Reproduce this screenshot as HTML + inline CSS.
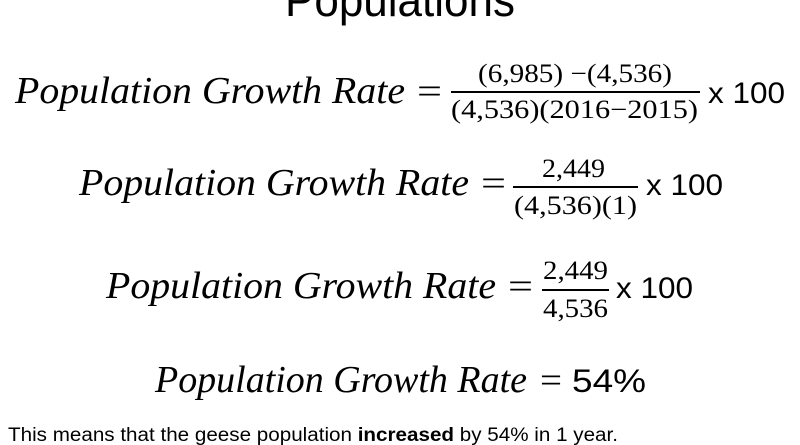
<!DOCTYPE html>
<html><head><meta charset="utf-8"><style>
html,body{margin:0;padding:0;background:#fff;width:800px;height:445px;overflow:hidden}
svg{display:block}
.m{font-family:"Liberation Serif",serif;font-style:italic;fill:#000}
.n{font-family:"Liberation Serif",serif;fill:#000}
.s{font-family:"Liberation Sans",sans-serif;fill:#000}
</style></head><body>
<svg width="800" height="445" viewBox="0 0 800 445">
<text class="s" x="400" y="16" font-size="46" text-anchor="middle" textLength="230" lengthAdjust="spacingAndGlyphs">Populations</text>

<g>
<text class="m" x="15" y="103" font-size="38" textLength="390" lengthAdjust="spacingAndGlyphs">Population Growth Rate</text>
<text class="n" x="417" y="103" font-size="36" textLength="25" lengthAdjust="spacingAndGlyphs">=</text>
<text class="n" x="478" y="82" font-size="26" textLength="194" lengthAdjust="spacingAndGlyphs">(6,985) −(4,536)</text>
<rect x="451" y="91" width="249" height="2" fill="#000"/>
<text class="n" x="451" y="118" font-size="26" textLength="247" lengthAdjust="spacingAndGlyphs">(4,536)(2016−2015)</text>
<text class="s" x="708" y="103" font-size="30" textLength="77" lengthAdjust="spacingAndGlyphs">x 100</text>
</g>

<g>
<text class="m" x="79" y="195" font-size="38" textLength="390" lengthAdjust="spacingAndGlyphs">Population Growth Rate</text>
<text class="n" x="481" y="195" font-size="36" textLength="25" lengthAdjust="spacingAndGlyphs">=</text>
<text class="n" x="542" y="177" font-size="26" textLength="63" lengthAdjust="spacingAndGlyphs">2,449</text>
<rect x="513" y="186" width="125" height="2" fill="#000"/>
<text class="n" x="514" y="214" font-size="26" textLength="123" lengthAdjust="spacingAndGlyphs">(4,536)(1)</text>
<text class="s" x="646" y="195" font-size="30" textLength="77" lengthAdjust="spacingAndGlyphs">x 100</text>
</g>

<g>
<text class="m" x="106" y="298" font-size="38" textLength="390" lengthAdjust="spacingAndGlyphs">Population Growth Rate</text>
<text class="n" x="508" y="298" font-size="36" textLength="25" lengthAdjust="spacingAndGlyphs">=</text>
<text class="n" x="543" y="279" font-size="26" textLength="65" lengthAdjust="spacingAndGlyphs">2,449</text>
<rect x="542" y="289" width="67" height="2" fill="#000"/>
<text class="n" x="543" y="317" font-size="26" textLength="65" lengthAdjust="spacingAndGlyphs">4,536</text>
<text class="s" x="616" y="298" font-size="30" textLength="77" lengthAdjust="spacingAndGlyphs">x 100</text>
</g>

<g>
<text class="m" x="155" y="392" font-size="38" textLength="372" lengthAdjust="spacingAndGlyphs">Population Growth Rate</text>
<text class="n" x="540" y="392" font-size="36" textLength="22" lengthAdjust="spacingAndGlyphs">=</text>
<text class="s" x="572" y="392" font-size="32" textLength="74" lengthAdjust="spacingAndGlyphs">54%</text>
</g>

<text class="s" x="8" y="441" font-size="19" textLength="610" lengthAdjust="spacingAndGlyphs">This means that the geese population <tspan font-weight="bold">increased</tspan> by 54% in 1 year.</text>
</svg>
</body></html>
